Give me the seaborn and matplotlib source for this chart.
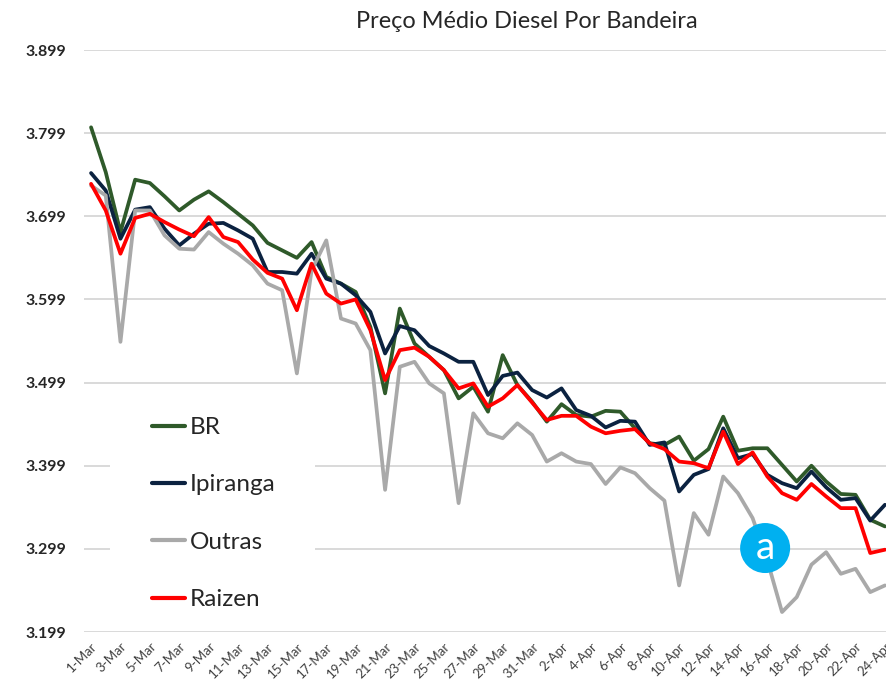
import matplotlib
matplotlib.use('Agg')
import matplotlib.pyplot as plt
from matplotlib.patches import Rectangle
import numpy as np
import pandas as pd
import seaborn as sns

# daily dates, 1-Mar .. 24-Apr
dates = pd.date_range('2020-03-01', '2020-04-24', freq='D')
day_labels = ['{}-{}'.format(d.day, d.strftime('%b')) for d in dates]

bandeiras = ['BR', 'Ipiranga', 'Outras', 'Raizen']

br = [3.806, 3.752, 3.680, 3.743, 3.739, 3.723, 3.706, 3.719, 3.729, 3.716,
      3.702, 3.688, 3.667, 3.658, 3.649, 3.668, 3.626, 3.618, 3.608, 3.566,
      3.486, 3.588, 3.546, 3.530, 3.514, 3.480, 3.494, 3.464, 3.532, 3.496,
      3.476, 3.452, 3.473, 3.460, 3.458, 3.465, 3.464, 3.444, 3.426, 3.424,
      3.434, 3.405, 3.419, 3.458, 3.417, 3.420, 3.420, 3.400, 3.380, 3.399,
      3.380, 3.365, 3.364, 3.334, 3.326]
ipiranga = [3.751, 3.730, 3.672, 3.707, 3.710, 3.684, 3.664, 3.678, 3.690, 3.691,
            3.682, 3.672, 3.632, 3.632, 3.630, 3.654, 3.624, 3.618, 3.604, 3.584,
            3.534, 3.567, 3.562, 3.543, 3.534, 3.524, 3.524, 3.484, 3.507, 3.511,
            3.490, 3.481, 3.492, 3.466, 3.459, 3.445, 3.453, 3.452, 3.424, 3.427,
            3.368, 3.388, 3.395, 3.444, 3.408, 3.413, 3.388, 3.378, 3.372, 3.392,
            3.373, 3.358, 3.360, 3.333, 3.352]
outras = [3.736, 3.724, 3.548, 3.706, 3.706, 3.676, 3.660, 3.659, 3.680, 3.666,
          3.654, 3.640, 3.618, 3.610, 3.510, 3.634, 3.670, 3.576, 3.570, 3.538,
          3.370, 3.518, 3.524, 3.498, 3.486, 3.354, 3.462, 3.438, 3.432, 3.450,
          3.436, 3.404, 3.414, 3.404, 3.401, 3.377, 3.397, 3.390, 3.372, 3.357,
          3.255, 3.342, 3.316, 3.386, 3.366, 3.336, 3.285, 3.223, 3.241, 3.280,
          3.295, 3.269, 3.275, 3.247, 3.255]
raizen = [3.738, 3.706, 3.654, 3.697, 3.702, 3.692, 3.683, 3.675, 3.698, 3.674,
          3.668, 3.647, 3.631, 3.624, 3.586, 3.642, 3.606, 3.594, 3.599, 3.562,
          3.502, 3.538, 3.541, 3.530, 3.514, 3.492, 3.498, 3.470, 3.480, 3.496,
          3.475, 3.454, 3.459, 3.459, 3.446, 3.438, 3.441, 3.443, 3.426, 3.419,
          3.404, 3.402, 3.396, 3.440, 3.401, 3.415, 3.386, 3.366, 3.358, 3.377,
          3.362, 3.348, 3.348, 3.294, 3.298]

y_ticks = [3.199, 3.299, 3.399, 3.499, 3.599, 3.699, 3.799, 3.899]

palette = {'BR': '#2f5a2a', 'Ipiranga': '#0b2240',
           'Outras': '#a9a9a9', 'Raizen': '#ff0000'}

df = pd.DataFrame({
    'dia': np.tile(np.arange(len(dates)), len(bandeiras)),
    'preco': np.concatenate([br, ipiranga, outras, raizen]),
    'bandeira': np.repeat(bandeiras, len(dates)),
})

sns.set_style('white')
plt.rcParams['font.family'] = ['Lato', 'DejaVu Sans']

fig = plt.figure(figsize=(8.87, 6.81), dpi=100)
ax = fig.add_axes([84 / 887, 49 / 681, 803 / 887, 582 / 681])

sns.lineplot(data=df, x='dia', y='preco', hue='bandeira', hue_order=bandeiras,
             palette=palette, linewidth=2.7, ax=ax)

ax.set_xlim(-0.48, 54.14)
ax.set_ylim(3.199, 3.899)
ax.set_yticks(y_ticks)
ax.set_yticklabels(['{:.3f}'.format(v) for v in y_ticks],
                   fontweight='bold', fontsize=11.5, color='#262626')
ax.set_xticks(range(0, len(dates), 2))
ax.set_xticklabels(day_labels[::2], rotation=45, ha='right',
                   rotation_mode='anchor', fontsize=9.5, color='#404040')
ax.tick_params(axis='y', length=0, pad=13)
ax.tick_params(axis='x', length=0, pad=6)
ax.set_xlabel('')
ax.set_ylabel('')
ax.grid(axis='y', color='#d9d9d9', linewidth=1.4)
ax.set_axisbelow(True)
for s in ax.spines.values():
    s.set_visible(False)

# caixa branca da legenda (cobre as linhas de grade)
fig.patches.append(Rectangle((110 / 887, 1 - 622 / 681), 205 / 887, 227 / 681,
                             transform=fig.transFigure, facecolor='white',
                             edgecolor='none', zorder=1))
ax.set_zorder(0)
ax.patch.set_alpha(0)

handles, labels = ax.get_legend_handles_labels()
leg = fig.legend(handles, labels, loc='upper left',
                 bbox_to_anchor=(152 / 887, 1 - 417 / 681),
                 fontsize=17.5, frameon=False, handlelength=1.36,
                 handletextpad=0.2, labelspacing=1.5, borderpad=0,
                 borderaxespad=0)
leg.set_zorder(3)
for line in leg.get_lines():
    line.set_linewidth(3)
ax.get_legend().remove()

# marcador "a"
ax.text(45.85, 3.300, 'a', ha='center', va='center', color='white',
        fontsize=28, zorder=10,
        bbox=dict(boxstyle='circle,pad=0.18', fc='#00b0f0', ec='none'))

fig.text(527 / 887, 1 - 22 / 681, 'Preço Médio Diesel Por Bandeira',
         ha='center', va='center', fontsize=16.9, color='#262626')

fig.savefig('out.png', dpi=100)
